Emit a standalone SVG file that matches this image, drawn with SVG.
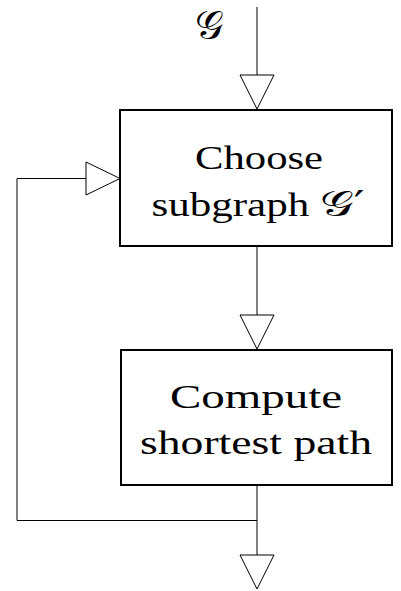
<svg xmlns="http://www.w3.org/2000/svg" width="401" height="591" viewBox="0 0 401 591">
<style>
.box{fill:#fff;stroke:#000;stroke-width:2}
.ln{fill:none;stroke:#000;stroke-width:1}
.hd{fill:#fff;stroke:#000;stroke-width:1;stroke-linejoin:miter}
.t{font-family:"Liberation Serif","DejaVu Serif",serif;font-size:33px;fill:#000;text-anchor:middle}
.m{font-family:"DejaVu Serif","Liberation Serif",serif;font-size:40px;fill:#000}
.g{font-family:"DejaVu Serif","Liberation Serif",serif;font-size:36px}
</style>
<rect width="401" height="591" fill="#fff"/>
<g id="connectors">
<path class="ln" d="M257,7 V75"/>
<polygon class="hd" points="240,75 274,75 257,109"/>
<path class="ln" d="M257,246 V315"/>
<polygon class="hd" points="240,315 274,315 257,349"/>
<path class="ln" d="M257,486 V555 M257,520.5 H17 V178.5 H86"/>
<polygon class="hd" points="86,162 86,195 120,178.5"/>
<polygon class="hd" points="240,555 274,555 257,589"/>
</g>
<g id="input-label">
<text class="m" x="195" y="39">𝒢</text>
</g>
<g id="choose">
<rect class="box" x="120" y="110" width="272" height="136"/>
<text class="t" x="259" y="169" textLength="128" lengthAdjust="spacingAndGlyphs">Choose</text>
<text class="t" x="258" y="216" textLength="213" lengthAdjust="spacingAndGlyphs">subgraph <tspan class="g">𝒢′</tspan></text>
</g>
<g id="compute">
<rect class="box" x="121" y="350" width="271" height="135"/>
<text class="t" x="256" y="408" textLength="172" lengthAdjust="spacingAndGlyphs">Compute</text>
<text class="t" x="256" y="454" textLength="232" lengthAdjust="spacingAndGlyphs">shortest path</text>
</g>
</svg>
